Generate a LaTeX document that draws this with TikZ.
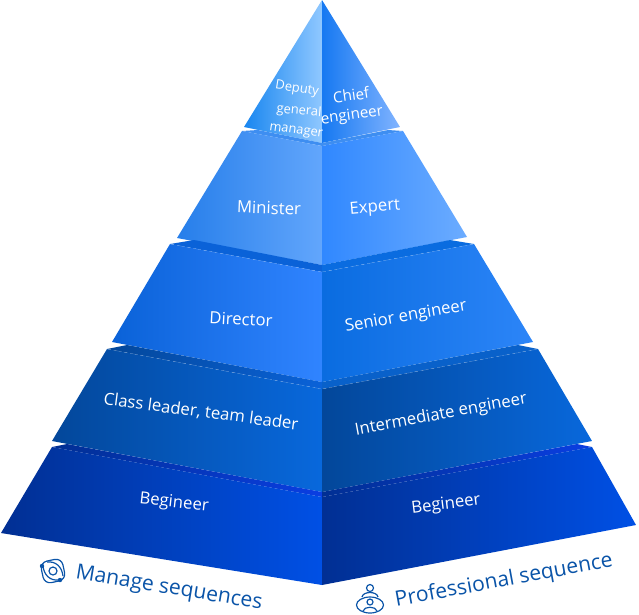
\documentclass[tikz,border=0pt]{standalone}
\usepackage{fontspec}
\setmainfont{Open Sans}
\usetikzlibrary{positioning}
\definecolor{apexdark}{RGB}{24,134,240}
\definecolor{apexlight}{RGB}{144,200,255}
\definecolor{ministerdark}{RGB}{38,126,234}
\definecolor{ministerlight}{RGB}{98,166,252}
\definecolor{expertdark}{RGB}{48,136,255}
\definecolor{expertlight}{RGB}{108,172,255}
\definecolor{directordark}{RGB}{10,98,216}
\definecolor{directorlight}{RGB}{48,132,255}
\definecolor{seniordark}{RGB}{10,108,224}
\definecolor{seniorlight}{RGB}{44,133,248}
\definecolor{classdark}{RGB}{3,71,154}
\definecolor{classlight}{RGB}{8,104,220}
\definecolor{basedark}{RGB}{1,47,147}
\definecolor{baselight}{RGB}{0,80,229}
\definecolor{bandbright}{RGB}{10,62,226}
\definecolor{captionblue}{RGB}{10,84,168}
\tikzset{
  tierlabel/.style={font=\fontsize{11.9}{13}\selectfont, text=white, inner sep=0pt},
  apexlabel/.style={font=\fontsize{9.2}{11}\selectfont, text=white, inner sep=0pt},
  chieflabel/.style={font=\fontsize{10.8}{12}\selectfont, text=white, inner sep=0pt},
  caption/.style={font=\fontsize{15}{17}\selectfont, text=captionblue, inner sep=0pt},
  icon/.style={draw=captionblue, line width=0.85pt},
  seam/.style={white, opacity=0.25, line width=0.3pt, dashed}
}
\begin{document}
\begin{tikzpicture}[x=0.25mm, y=-0.25mm]
\useasboundingbox (0,0) rectangle (639,614);

% === apex ===
\shade[left color=apexdark, right color=apexlight] (322,0) -- (244,127) -- (322,143) -- cycle;
\shade[left color=apexdark!90!blue, right color=apexlight!90!blue] (322,0) -- (322,143) -- (400,127) -- cycle;

% === minister / expert ===
\fill[ministerdark!60!ministerlight] (258,130) -- (322,143) -- (388,130) -- (403,131) -- (322,146) -- (242,131) -- cycle;
\shade[left color=ministerdark, right color=ministerlight] (242,131) -- (322,146) -- (322,265) -- (177,238) -- cycle;
\shade[left color=expertdark, right color=expertlight] (322,146) -- (403,131) -- (467,237) -- (322,265) -- cycle;

% === director / senior ===
\fill[directordark] (194,240) -- (322,265) -- (322,272) -- (170,244) -- cycle;
\fill[seniordark] (450,240) -- (322,265) -- (322,272) -- (474,244) -- cycle;
\shade[left color=directordark, right color=directorlight] (170,244) -- (322,272) -- (322,382) -- (112,342) -- cycle;
\shade[left color=seniordark, right color=seniorlight] (322,272) -- (474,244) -- (533,342) -- (322,382) -- cycle;
\draw[seam] (170,244) -- (322,272) -- (474,244);

% === class leader / intermediate ===
\shade[left color=classdark, right color=directordark] (127,345) -- (322,382) -- (322,389) -- (107,349) -- cycle;
\fill[seniordark!90!black] (518,345) -- (322,382) -- (322,389) -- (538,349) -- cycle;
\shade[left color=classdark, right color=classlight] (107,349) -- (322,389) -- (322,492) -- (52,441) -- cycle;
\shade[left color=classdark, right color=classlight] (322,389) -- (538,349) -- (592,441) -- (322,492) -- cycle;
\draw[seam] (107,349) -- (322,389) -- (538,349);

% === beginner row ===
\shade[left color=basedark, right color=bandbright] (67,444) -- (322,492) -- (322,497) -- (52,447) -- cycle;
\shade[left color=basedark, right color=bandbright] (577,444) -- (322,492) -- (322,497) -- (592,447) -- cycle;
\shade[left color=basedark, right color=baselight] (52,447) -- (322,497) -- (322,585) -- (1,533) -- cycle;
\shade[left color=basedark, right color=baselight] (322,497) -- (592,447) -- (636,525) -- (322,585) -- cycle;

% === labels ===
\node[apexlabel, rotate=-9] (deputy) at (297,89) {Deputy};
\node[apexlabel, rotate=-5] (general) at (299,111) {general};
\node[apexlabel, rotate=-8] (manager) at (296,132) {manager};
\node[chieflabel, rotate=8] (chief) at (351,95) {Chief};
\node[chieflabel, rotate=8] (engineer) at (352,116) {engineer};
\node[tierlabel, rotate=-2] (minister) at (269,208) {Minister};
\node[tierlabel, rotate=5] (expert) at (375,208) {Expert};
\node[tierlabel, rotate=-3] (director) at (241,319) {Director};
\node[tierlabel, rotate=10] (senior) at (406,317) {Senior engineer};
\node[tierlabel, rotate=-7.5] (classleader) at (201,412) {Class leader, team leader};
\node[tierlabel, rotate=10.5] (intermediate) at (441,415) {Intermediate engineer};
\node[tierlabel, rotate=-6] (begineerL) at (174,503) {Begineer};
\node[tierlabel, rotate=7] (begineerR) at (446,505) {Begineer};

% === sequence captions ===
\node[caption, rotate=-9.3] (manage) at (169,589) {Manage sequences};
\node[caption, rotate=10.4] (professional) at (504,581) {Professional sequence};

% manage icon
\draw[icon, rounded corners=5pt, rotate around={12:(53,571)}] (42,560) rectangle (64,582);
\draw[icon] (53,571) circle (4);
\draw[icon] (43,566) .. controls (44,575) and (50,581) .. (59,580);
\draw[icon] (63,576) .. controls (62,567) and (56,561) .. (47,562);
\fill[captionblue] (42,566) circle (2.2);
\fill[captionblue] (60,580) circle (2.2);

% professional icon
\draw[icon] (370,605) ellipse (13.5 and 8);
\draw[icon] (370,588) circle (3.5);
\draw[icon] (362,597) .. controls (363,591) and (377,591) .. (378,597);
\draw[icon] (370,602) circle (3);
\draw[icon] (363,611) .. controls (364,606) and (376,606) .. (377,611);

\end{tikzpicture}
\end{document}
